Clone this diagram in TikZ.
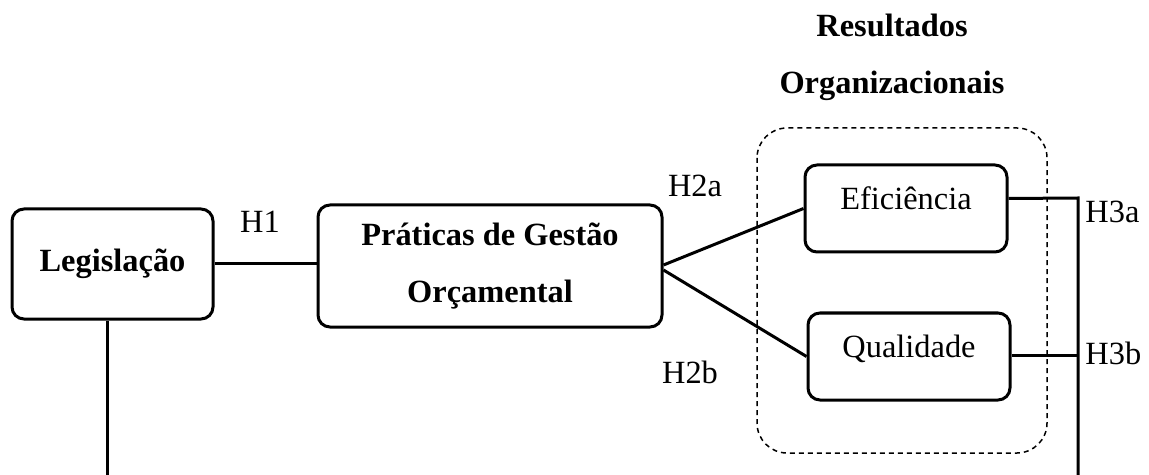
\documentclass[tikz,border=0pt]{standalone}
\usepackage{fontspec}
\setmainfont{Liberation Serif}
\usetikzlibrary{positioning}

\begin{document}
\begin{tikzpicture}[x=0.5pt,y=-0.5pt,
  every node/.style={font=\fontsize{16.2}{28.5}\selectfont},
  box/.style={draw,line width=1.5pt,rounded corners=6pt,align=center},
  bold/.style={font=\fontsize{16.2}{28.5}\selectfont\bfseries},
  link/.style={line width=1.5pt}]
\useasboundingbox (0,0) rectangle (1149,475);
% constructs
\node[box,bold,minimum width=100.5pt,minimum height=55pt] (leg) at (112.5,264) {Legisla\c{c}\~ao};
\node[box,bold,minimum width=172pt,minimum height=61pt] (prat) at (490,266) {Pr\'aticas de Gest\~ao\\Or\c{c}amental};
\node[box,minimum width=101pt,minimum height=43.5pt,text height=8pt,text depth=7pt] (efi) at (906,208.5) {Efici\^encia};
\node[box,minimum width=101pt,minimum height=43.5pt,text height=8pt,text depth=7pt] (qual) at (909,356.5) {Qualidade};
% outcomes group
\draw[line width=0.75pt,dash pattern=on 2.5pt off 2pt,rounded corners=15pt] (757,128) rectangle (1047,453);
\node[bold,align=center] (res) at (892,57) {Resultados\\Organizacionais};
% hypotheses
\node (h1) at (260,222) {H1};
\node (h2a) at (695,186) {H2a};
\node (h2b) at (690,372) {H2b};
\node[anchor=west,inner sep=1pt] (h3a) at (1083,212) {H3a};
\node[anchor=west,inner sep=1pt] (h3b) at (1083,353) {H3b};
% links
\coordinate (legdown) at (107,475);
\coordinate (rtop) at (1078,198);
\coordinate (rmid) at (1078,355);
\coordinate (rdown) at (1078,475);
\draw[link] (leg.east) -- (leg.east -| prat.west);
\draw[link] ([yshift=0.5pt]prat.east) -- (efi.west);
\draw[link] ([yshift=-2pt]prat.east) -- (qual.west);
\draw[link] (leg.south -| legdown) -- (legdown);
\draw[link] ([yshift=5pt]efi.east) -- (rtop) -- (rdown);
\draw[link] (qual.east |- rmid) -- (rmid);
\end{tikzpicture}
\end{document}
